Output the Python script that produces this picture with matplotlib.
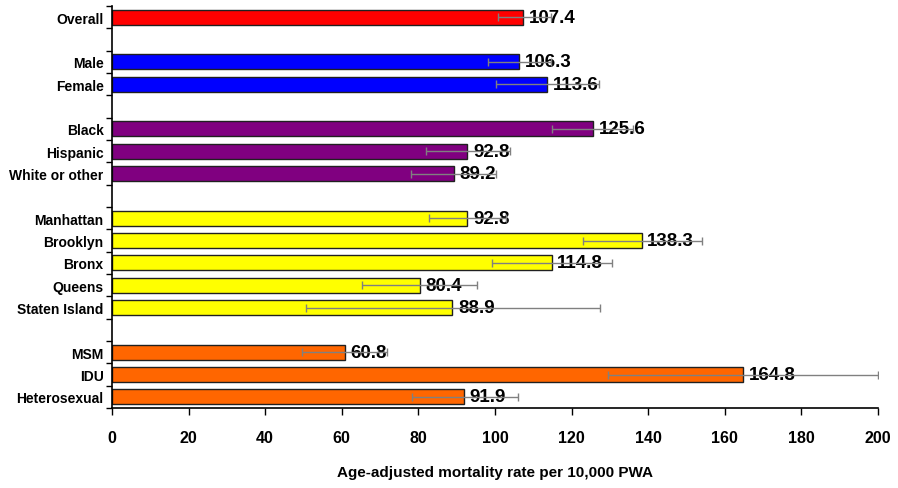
import numpy as np
import matplotlib.pyplot as plt
from matplotlib.ticker import FixedLocator

plt.rcParams['font.family'] = ['Liberation Sans', 'DejaVu Sans']

# categories top to bottom, with None marking the spacer rows between groups
labels = ['Overall', None,
          'Male', 'Female', None,
          'Black', 'Hispanic', 'White or other', None,
          'Manhattan', 'Brooklyn', 'Bronx', 'Queens', 'Staten Island', None,
          'MSM', 'IDU', 'Heterosexual']
rates = [107.4, None,
         106.3, 113.6, None,
         125.6, 92.8, 89.2, None,
         92.8, 138.3, 114.8, 80.4, 88.9, None,
         60.8, 164.8, 91.9]
ci_low = [100.8, None,
          98.1, 100.2, None,
          115.0, 81.9, 78.1, None,
          82.9, 123.0, 99.3, 65.4, 50.7, None,
          49.7, 129.6, 78.3]
ci_high = [114.5, None,
           114.5, 127.2, None,
           136.0, 103.9, 100.3, None,
           103.0, 154.0, 130.5, 95.4, 127.5, None,
           71.7, 200.0, 106.0]
colors = ['#FF0000', None,
          '#0000FF', '#0000FF', None,
          '#800080', '#800080', '#800080', None,
          '#FFFF00', '#FFFF00', '#FFFF00', '#FFFF00', '#FFFF00', None,
          '#FF6600', '#FF6600', '#FF6600']

fig = plt.figure(figsize=(8.98, 4.89), dpi=100)
ax = fig.add_axes([0.1247, 0.1636, 0.853, 0.822])

rows = [i for i, v in enumerate(rates) if v is not None]
y = np.array(rows)
vals = np.array([rates[i] for i in rows])
lo = np.array([ci_low[i] for i in rows])
hi = np.array([ci_high[i] for i in rows])
cols = [colors[i] for i in rows]

ax.barh(y, vals, height=0.67, color=cols, edgecolor='#202020', linewidth=1.0, zorder=2)

# value labels sit under the CI whiskers
for yi, v in zip(y, vals):
    ax.annotate(f'{v:.1f}', (v, yi), xytext=(4, 0), textcoords='offset points',
                ha='left', va='center', fontsize=13.5, fontweight='bold', zorder=3)

ax.errorbar(vals, y, xerr=[vals - lo, hi - vals], fmt='none', ecolor='#808080',
            elinewidth=1.0, capsize=3, capthick=1.0, zorder=5)

ax.set_xlim(0, 200)
ax.set_ylim(len(labels) - 0.5, -0.5)
ax.set_xticks(np.arange(0, 201, 20))
ax.tick_params(axis='x', length=5, width=1, pad=11, labelsize=11.5)
for t in ax.get_xticklabels():
    t.set_fontweight('bold')

ax.set_yticks(y)
ax.set_yticklabels([labels[i] for i in rows], fontsize=10, fontweight='bold')
ax.tick_params(axis='y', which='major', length=0, pad=6)
ax.yaxis.set_minor_locator(FixedLocator(np.arange(-0.5, len(labels), 1.0)))
ax.tick_params(axis='y', which='minor', length=4, width=1)

ax.spines['top'].set_visible(False)
ax.spines['right'].set_visible(False)
ax.spines['left'].set_linewidth(1.2)
ax.spines['bottom'].set_linewidth(1.2)

ax.set_xlabel('Age-adjusted mortality rate per 10,000 PWA', fontsize=11,
              fontweight='bold', labelpad=14)

fig.savefig('out.png', dpi=100)
